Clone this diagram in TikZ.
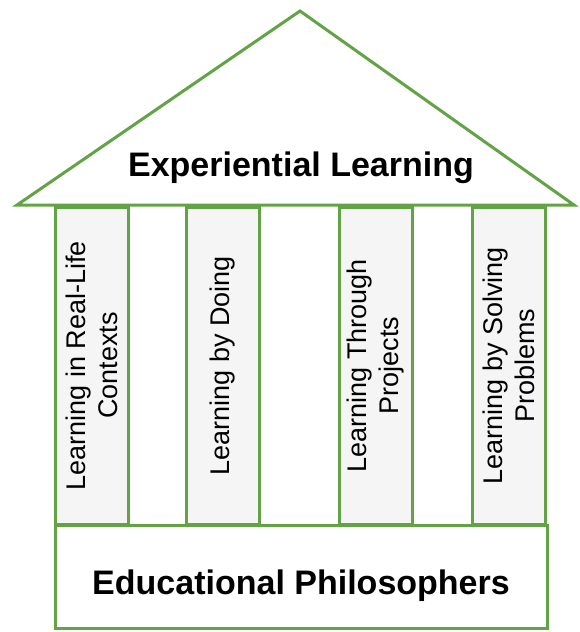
\documentclass[tikz,border=0pt]{standalone}
\usepackage{fontspec}
\setmainfont{Liberation Sans}
\definecolor{pillargreen}{RGB}{98,163,70}

\begin{document}
\begin{tikzpicture}[x=1pt, y=-1pt,
    outline/.style={draw=pillargreen, line width=3pt},
    pillar/.style={outline, fill=black!4, rotate=90, minimum width=317pt,
      minimum height=73pt, inner sep=0pt, align=center,
      font=\fontsize{27}{32}\selectfont},
    bigtext/.style={font=\fontsize{34}{40}\selectfont\bfseries}]
    \useasboundingbox (0,0) rectangle (579,632);

    % roof
    \coordinate (eaveL) at (17,205);
    \coordinate (ridge) at (300,11);
    \coordinate (eaveR) at (574,205);
    \draw[outline, fill=white] (eaveL) -- (ridge) -- (eaveR) -- cycle;
    \node[bigtext] at (301,168) (roof) {Experiential Learning};

    % pillars
    \node[pillar] at (91.5,365.5) (P1) {Learning in Real-Life\\Contexts};
    \node[pillar] at (222.5,365.5) (P2) {Learning by Doing};
    \node[pillar] at (376,365.5) (P3) {Learning Through\\Projects};
    \node[pillar] at (509,365.5) (P4) {Learning by Solving\\Problems};

    % foundation
    \node[outline, fill=white, bigtext, minimum width=492pt, minimum height=103pt,
      text height=35pt, text depth=0pt]
      at (301,576.5) (base) {Educational Philosophers};
  \end{tikzpicture}
\end{document}
